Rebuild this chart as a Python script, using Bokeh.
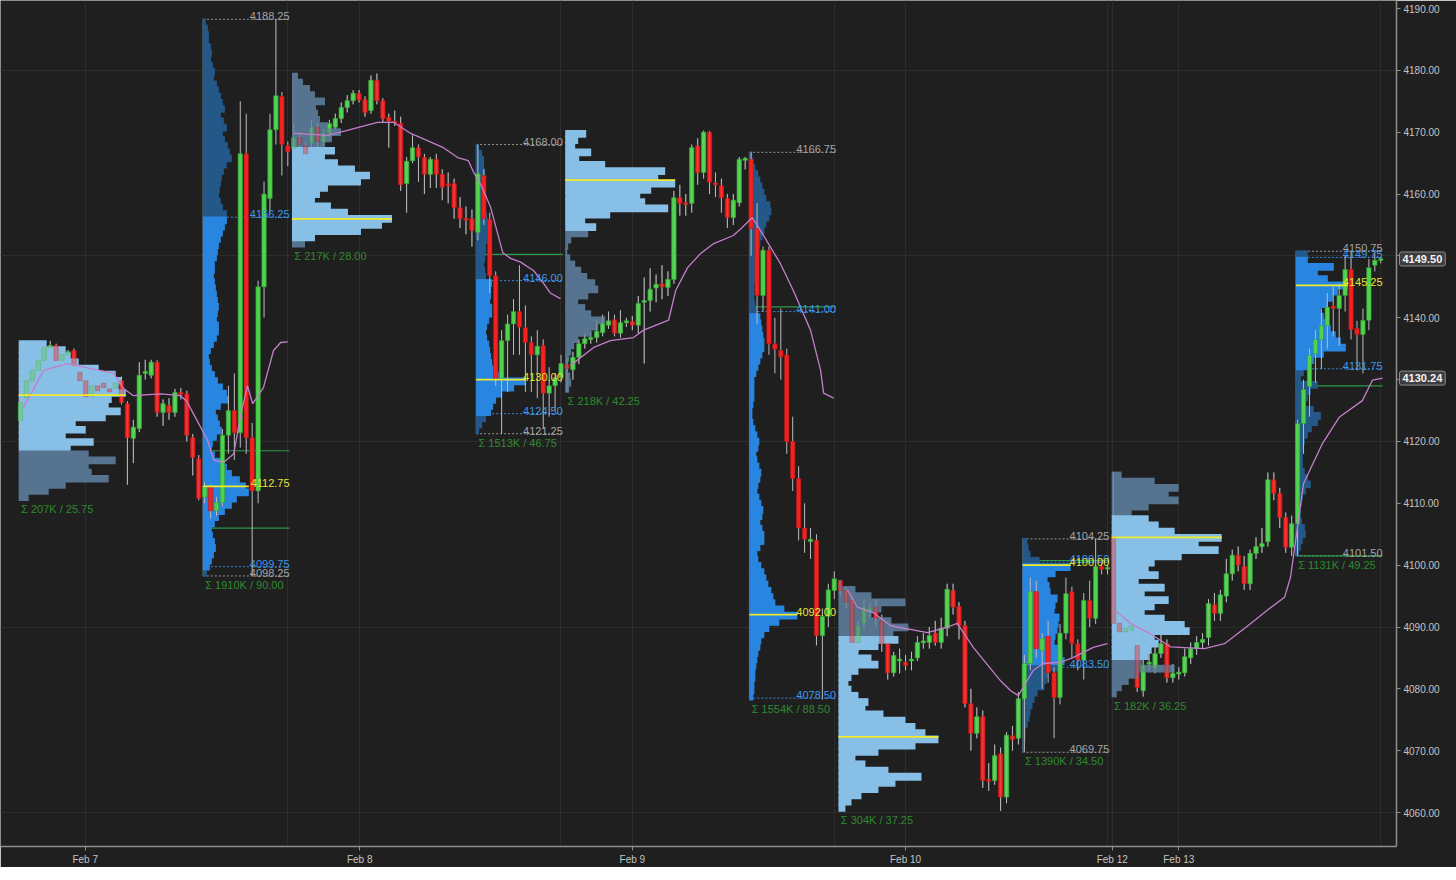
import numpy as np
from bokeh.plotting import figure
from bokeh.models import Range1d, FixedTicker, PrintfTickFormatter, Label, ColumnDataSource
from bokeh.core.properties import value
from bokeh.embed import file_html
from bokeh.resources import INLINE

# ---------------- candles (open, high, low, close), 30-min bars, per session ----------------
ses_A = [(4123.4,4127.0,4122.0,4126.3),(4127.0,4130.5,4126.0,4129.8),(4129.8,4132.0,4129.0,4131.5),
 (4131.5,4133.5,4131.0,4133.1),(4133.1,4135.5,4132.5,4135.2),(4135.2,4136.25,4134.8,4135.5),
 (4135.5,4135.8,4132.5,4133.1),(4133.1,4134.5,4132.8,4134.0),(4134.0,4134.8,4133.5,4134.5),
 (4134.7,4135.0,4131.8,4132.3),(4131.2,4131.8,4129.5,4129.8),(4129.8,4130.5,4126.5,4127.2),
 (4127.2,4129.5,4126.8,4129.0),(4129.0,4130.0,4127.8,4128.2),(4129.4,4130.5,4128.2,4128.7),
 (4128.5,4129.5,4127.5,4128.0),(4128.6,4130.2,4128.2,4129.5),(4129.8,4130.5,4126.0,4126.3),
 (4126.1,4126.5,4113.0,4120.6),(4120.5,4123.5,4116.5,4122.3),(4122.1,4132.8,4121.5,4130.7),
 (4131.0,4133.2,4130.0,4131.3),(4130.7,4133.2,4130.2,4132.8),(4132.8,4133.1,4124.0,4124.7),
 (4124.7,4126.8,4122.5,4126.1),(4125.8,4127.0,4123.5,4124.7),(4124.7,4128.5,4124.0,4127.9),
 (4127.9,4128.6,4126.8,4127.7),(4127.7,4128.2,4120.0,4121.0),(4120.6,4121.2,4114.5,4117.4),
 (4117.2,4117.8,4110.5,4110.8)]
ses_B = [(4111.0,4113.5,4110.0,4112.6),(4112.6,4113.0,4107.5,4108.8),(4108.8,4111.0,4108.0,4110.1),
 (4110.1,4122.0,4109.5,4121.0),(4121.0,4129.0,4118.0,4125.0),(4125.0,4131.0,4117.0,4121.4),
 (4121.4,4175.0,4119.0,4166.5),(4166.5,4173.0,4118.0,4120.6),(4120.6,4123.0,4098.25,4112.0),
 (4112.0,4146.0,4110.0,4145.0),(4145.0,4162.0,4140.0,4160.0),(4159.3,4173.0,4157.0,4170.4),
 (4170.4,4188.25,4168.0,4175.9),(4175.8,4176.5,4163.0,4168.0),(4167.8,4168.5,4164.5,4166.8)]
ses_C = [(4167.4,4171.5,4165.0,4169.1),(4169.1,4170.0,4167.5,4168.0),(4167.8,4168.5,4164.5,4166.5),
 (4168.2,4172.0,4167.0,4170.8),(4170.8,4171.5,4167.5,4168.4),(4168.4,4170.5,4167.8,4169.8),
 (4169.8,4172.0,4169.2,4171.4),(4170.8,4173.0,4170.5,4172.2),(4172.2,4174.8,4171.5,4174.0),
 (4174.0,4176.0,4173.2,4175.1),(4175.1,4176.8,4174.5,4176.3),(4176.3,4176.8,4174.8,4175.2),
 (4175.3,4175.8,4172.5,4173.2),(4173.5,4179.2,4173.0,4178.4),(4178.4,4179.5,4174.5,4175.1),
 (4175.1,4175.5,4171.5,4172.2),(4172.4,4173.0,4167.5,4171.8),(4171.8,4173.5,4171.0,4171.5),
 (4171.4,4172.5,4160.5,4161.5),(4161.7,4166.0,4157.0,4165.3),(4165.4,4169.5,4165.0,4167.5),
 (4167.5,4168.0,4162.0,4166.0),(4165.9,4166.5,4160.0,4163.2),(4163.2,4166.0,4161.0,4165.6),
 (4165.6,4166.5,4161.0,4163.2),(4163.2,4164.0,4159.0,4161.1),(4161.6,4163.5,4158.5,4161.4),
 (4161.7,4162.5,4156.0,4157.8),(4157.8,4159.5,4154.5,4156.0),(4156.0,4158.0,4153.5,4155.8),
 (4156.0,4157.5,4151.5,4154.1)]
ses_D = [(4153.8,4168.0,4152.5,4163.3),(4163.0,4164.0,4155.0,4156.0),(4155.9,4157.0,4144.0,4146.8),
 (4146.8,4147.5,4129.0,4130.2),(4130.2,4138.0,4121.25,4136.3),(4136.3,4140.5,4128.0,4139.0),
 (4139.0,4143.0,4134.0,4141.0),(4141.0,4148.5,4134.0,4138.5),(4138.4,4142.0,4128.0,4136.0),
 (4136.0,4137.0,4128.0,4134.0),(4134.0,4138.0,4127.0,4135.4),(4135.5,4136.5,4122.0,4127.8),
 (4127.8,4132.0,4124.0,4129.0),(4129.0,4131.0,4125.0,4130.3),(4130.3,4134.0,4129.5,4132.6)]
ses_E = [(4132.4,4133.5,4128.0,4131.8),(4131.6,4134.5,4130.0,4133.6),(4133.6,4136.5,4132.5,4135.8),
 (4135.8,4137.5,4135.0,4136.6),(4136.5,4137.8,4135.8,4136.8),(4136.8,4139.8,4136.0,4137.8),
 (4137.6,4140.5,4137.0,4139.2),(4138.8,4141.0,4138.2,4139.5),(4139.7,4140.5,4137.0,4137.5),
 (4137.5,4141.2,4136.8,4139.2),(4139.2,4140.0,4138.5,4139.5),(4139.4,4140.3,4138.0,4138.8),
 (4138.8,4143.5,4137.5,4142.3),(4142.5,4146.5,4132.6,4142.8),(4142.8,4148.0,4141.0,4144.6),
 (4144.8,4147.0,4142.5,4145.4),(4145.5,4148.5,4143.0,4145.0),(4144.9,4147.5,4143.5,4146.2),
 (4146.2,4160.5,4145.5,4159.4),(4159.4,4161.5,4156.5,4158.5),(4158.6,4160.0,4156.5,4158.3),
 (4158.5,4168.0,4157.0,4167.5),(4167.8,4169.0,4161.5,4163.5),(4163.5,4170.25,4162.5,4170.0),
 (4170.0,4170.2,4160.0,4161.9),(4161.8,4163.5,4159.5,4161.5),(4161.4,4162.5,4157.0,4159.4),
 (4159.3,4160.0,4154.5,4156.2),(4156.2,4160.0,4155.0,4159.0),(4158.6,4166.0,4158.0,4165.6),
 (4165.6,4166.0,4164.0,4165.6)]
ses_F = [(4165.6,4166.75,4150.0,4154.4),(4154.4,4158.5,4139.0,4143.6),(4143.6,4151.5,4141.0,4150.9),
 (4150.9,4151.5,4134.0,4135.8),(4135.8,4140.0,4131.0,4134.9),(4134.7,4141.5,4130.0,4133.7),
 (4134.0,4135.0,4118.0,4120.0),(4120.0,4124.0,4112.0,4114.0),(4114.0,4116.0,4104.0,4106.0),
 (4106.0,4110.0,4102.0,4104.2),(4103.8,4106.0,4101.0,4104.2),(4104.0,4105.0,4087.0,4088.6),
 (4088.6,4093.0,4078.25,4091.7),(4091.7,4097.0,4090.0,4096.0),(4095.9,4099.0,4094.5,4097.8)]
ses_G = [(4097.5,4097.5,4095.0,4095.9),(4095.9,4096.5,4093.0,4094.0),(4094.3,4095.0,4086.5,4087.5),
 (4087.5,4091.0,4086.0,4090.2),(4090.6,4094.5,4089.5,4093.2),(4092.5,4094.0,4091.5,4093.0),
 (4093.2,4094.5,4090.0,4091.4),(4091.0,4092.0,4086.0,4087.3),(4087.3,4088.0,4081.5,4082.6),
 (4082.6,4086.0,4082.0,4085.4),(4084.5,4086.5,4082.5,4084.8),(4084.3,4085.5,4083.0,4083.8),
 (4084.5,4086.0,4083.0,4084.8),(4085.0,4088.5,4084.5,4087.5),(4087.5,4089.0,4086.5,4087.7),
 (4087.5,4090.0,4086.5,4088.6),(4089.0,4091.0,4087.0,4087.5),(4087.5,4091.5,4086.5,4089.8),
 (4089.8,4097.0,4088.5,4096.1),(4095.9,4097.0,4092.0,4093.2),(4093.3,4094.0,4088.0,4090.2),
 (4090.2,4091.0,4077.0,4077.6),(4077.6,4080.0,4070.0,4072.8),(4072.8,4077.0,4072.0,4075.5),
 (4075.5,4076.5,4064.0,4065.2),(4065.3,4068.0,4063.5,4065.1),(4065.2,4071.0,4064.5,4069.2),
 (4069.5,4070.5,4060.25,4062.5),(4062.5,4073.0,4061.5,4072.5),(4072.4,4074.0,4070.0,4071.8),
 (4072.0,4079.5,4071.0,4078.4)]
ses_H = [(4078.4,4085.5,4069.75,4084.1),(4084.1,4098.0,4083.0,4095.7),(4095.7,4097.5,4085.0,4086.5),
 (4086.2,4089.0,4080.0,4088.1),(4088.5,4091.0,4081.0,4082.6),(4082.6,4083.5,4072.0,4078.6),
 (4078.6,4090.5,4077.5,4089.0),(4089.0,4098.0,4088.0,4095.4),(4095.7,4096.5,4085.0,4087.3),
 (4087.3,4088.0,4083.0,4084.6),(4084.6,4095.5,4081.5,4094.3),(4094.3,4097.5,4090.0,4091.4),
 (4091.4,4104.25,4090.5,4099.8),(4099.8,4100.3,4098.5,4099.3),(4099.5,4100.0,4098.5,4099.5)]
ses_I = [(4104.6,4115.0,4089.0,4090.6),(4090.6,4093.0,4088.0,4089.2),(4089.2,4091.0,4087.5,4089.8),
 (4089.5,4092.0,4088.5,4090.2),(4087.0,4090.5,4079.5,4080.2),(4079.7,4085.0,4078.75,4083.8),
 (4084.0,4086.0,4083.0,4084.3),(4083.3,4087.0,4082.5,4085.7),(4085.7,4091.5,4085.0,4087.3),
 (4087.3,4088.0,4081.0,4081.8),(4081.8,4084.0,4081.0,4082.5),(4082.5,4083.5,4081.5,4082.6),
 (4082.6,4086.5,4082.0,4085.2),(4085.0,4087.5,4084.0,4086.5),(4086.5,4088.5,4085.5,4087.5),
 (4087.5,4089.0,4086.5,4088.0),(4088.3,4094.5,4087.0,4093.8),(4093.6,4095.5,4091.0,4092.2),
 (4092.2,4096.0,4091.0,4095.2),(4095.0,4101.0,4094.0,4098.6),(4098.6,4102.5,4097.5,4101.6),
 (4101.6,4103.0,4099.0,4100.0),(4099.8,4101.5,4096.0,4097.0),(4097.0,4102.5,4096.0,4101.9),
 (4101.9,4104.5,4101.0,4103.0),(4103.0,4106.0,4102.0,4103.5),(4103.8,4115.0,4103.0,4113.8),
 (4113.8,4115.0,4110.5,4111.6),(4111.6,4112.5,4106.0,4107.7),(4107.7,4108.5,4102.0,4102.9),
 (4102.9,4108.0,4101.5,4106.7)]
ses_J = [(4106.7,4123.5,4101.5,4122.9),(4122.9,4130.0,4118.0,4128.4),(4128.9,4135.0,4124.0,4133.9),
 (4134.2,4138.0,4129.5,4136.5),(4136.5,4141.5,4131.75,4138.7),(4138.7,4144.0,4135.0,4141.7),
 (4141.9,4145.0,4137.0,4141.5),(4141.5,4145.5,4135.5,4143.6),(4143.6,4150.0,4141.0,4147.8),
 (4147.8,4150.75,4136.5,4138.1),(4138.3,4139.5,4131.5,4137.3),(4137.3,4141.5,4131.0,4139.6),
 (4139.6,4149.5,4138.0,4148.1),(4148.5,4150.75,4147.5,4149.3),(4149.3,4149.8,4148.8,4149.5)]

# ---------------- volume profiles (volume per price row, top row first) ----------------
vol_A = [28,47,52,60,80,97,103,100,107,93,90,102,87,57,67,47,75,52,70,97,70,73,90,47,30,10]
vol_B = [3,5,6,6,8,9,8,10,12,11,14,16,18,20,22,18,21,24,20,22,25,27,29,24,21,19,18,17,16,18,20,24,
         24,22,20,18,16,15,14,12,12,11,12,13,14,15,16,15,14,16,16,14,11,8,6,7,9,12,15,20,24,26,18,13,
         15,17,19,14,10,9,12,18,24,29,37,43,46,34,29,22,16,12,9,10,12,13,11,9,7,4]
vol_C = [6,11,18,23,33,24,26,28,36,49,40,33,43,33,46,63,78,69,36,28,23,39,56,100,90,69,23,13]
vol_D = [3,6,8,8,9,8,7,6,6,7,9,11,12,13,13,12,10,10,9,8,9,10,
         16,15,15,14,16,16,13,11,10,11,13,14,15,16,20,23,50,38,26,20,17,15,10,6,3]
vol_E = [21,13,10,26,14,40,100,93,110,86,75,80,103,45,20,31,23,
         6,3,2,5,10,16,22,30,33,23,13,20,26,40,33,26,13,9,6,4,3,3,5,6,4]
vol_F = [3,4,6,9,11,13,15,17,21,22,20,17,15,13,11,10,9,8,7,6,6,5,5,5,6,8,
         11,12,13,14,15,15,13,11,9,7,5,5,5,5,4,3,3,4,6,8,10,9,7,8,10,12,11,9,8,10,12,14,13,11,13,15,
         15,11,8,9,12,15,17,19,22,24,26,35,48,30,20,15,12,11,9,8,7,6,6,5,5,4]
vol_G = [3,17,33,67,43,33,53,70,55,
         60,40,20,33,40,20,13,10,13,20,30,27,45,67,77,87,100,77,40,17,27,50,83,57,40,23,13,7]
vol_H = [5,6,8,17,48,33,25,27,28,35,33,32,37,36,35,33,32,38,40,42,38,
         25,24,22,15,12,10,8,7,5,3,3,2,2]
vol_I = [10,43,67,57,67,37,20,37,47,63,110,87,107,70,43,37,47,27,53,33,57,43,33,53,73,78,43,47,40,37,
         30,63,27,17,10,5]
vol_J = [12,12,38,22,32,52,42,37,32,25,28,30,35,40,45,50,28,18,12,
         8,5,22,15,12,10,18,25,22,16,12,9,8,7,7,7,9,12,15,10,7,6,5,5,6,9,10,7,5,3]

# profile: (volumes, high, low, value-area high, value-area low, POC, session type, total label)
profiles = [
    (vol_A, 4136.25, 4110.50, 4136.25, 4118.00, 4127.50, "eth", "Σ 207K / 25.75"),
    (vol_B, 4188.25, 4098.25, 4156.25, 4099.75, 4112.75, "rth", "Σ 1910K / 90.00"),
    (vol_C, 4179.50, 4151.50, 4167.50, 4153.00, 4156.00, "eth", "Σ 217K / 28.00"),
    (vol_D, 4168.00, 4121.25, 4146.00, 4124.50, 4130.00, "rth", "Σ 1513K / 46.75"),
    (vol_E, 4170.25, 4128.00, 4170.25, 4153.75, 4162.25, "eth", "Σ 218K / 42.25"),
    (vol_F, 4166.75, 4078.25, 4141.00, 4078.50, 4092.00, "rth", "Σ 1554K / 88.50"),
    (vol_G, 4097.50, 4060.25, 4088.50, 4060.25, 4072.25, "eth", "Σ 304K / 37.25"),
    (vol_H, 4104.25, 4069.75, 4100.50, 4083.50, 4100.00, "rth", "Σ 1390K / 34.50"),
    (vol_I, 4115.00, 4078.75, 4108.00, 4085.00, 4104.50, "eth", "Σ 182K / 36.25"),
    (vol_J, 4150.75, 4101.50, 4149.75, 4131.75, 4145.25, "rth", "Σ 1131K / 49.25"),
]
sessions = [ses_A, ses_B, ses_C, ses_D, ses_E, ses_F, ses_G, ses_H, ses_I, ses_J]

# RTH level labels (price, kind) and initial-balance lines
rth_levels = {
    1: [(4188.25, "grey"), (4156.25, "blue"), (4112.75, "yellow"), (4099.75, "blue"), (4098.25, "grey")],
    3: [(4168.00, "grey"), (4146.00, "blue"), (4130.00, "yellow"), (4124.50, "blue"), (4121.25, "grey")],
    5: [(4166.75, "grey"), (4141.00, "blue"), (4092.00, "yellow"), (4078.50, "blue")],
    7: [(4104.25, "grey"), (4100.50, "blue"), (4100.00, "yellow"), (4083.50, "blue"), (4069.75, "grey")],
    9: [(4150.75, "grey"), (4149.75, "blue"), (4145.25, "yellow"), (4131.75, "blue"), (4101.50, "grey")],
}
ib_levels = {1: [4118.50, 4106.00], 3: [4150.25], 5: [4141.75], 7: [4100.75], 9: [4129.00, 4101.50]}

# VWAP per trading day: (bar, price)
vwap_days = [
    [(0.5,4125.5),(3.9,4131.5),(7.9,4132.6),(15.7,4131.0),(17.3,4128.6),(19.0,4127.4),(23.6,4127.7),
     (26.9,4127.4),(28.0,4126.5),(29.1,4124.5),(31.5,4120.2),(32.5,4117.0),(34.2,4116.6),(35.9,4118.0),
     (37.0,4123.9),(38.2,4129.0),(39.1,4126.1),(40.9,4128.7),(42.6,4134.7),(43.8,4136.0),(45.0,4136.1)],
    [(46.0,4169.8),(51.7,4169.5),(55.0,4170.3),(60.1,4171.6),(62.8,4171.6),(65.7,4169.8),(71.2,4167.5),
     (73.6,4165.9),(75.4,4165.4),(76.3,4163.5),(77.4,4161.7),(79.1,4158.0),(81.2,4150.5),(82.5,4149.6),
     (84.2,4149.0),(86.4,4147.6),(88.1,4145.5),(89.2,4144.0),(90.9,4143.1)],
    [(92.6,4132.3),(96.5,4135.2),(99.3,4136.3),(103.2,4136.8),(104.9,4138.0),(109.1,4139.6),
     (110.3,4144.4),(112.3,4148.1),(114.5,4150.4),(116.7,4152.0),(120.0,4153.3),(121.5,4154.6),
     (123.2,4156.2),(124.9,4153.6),(127.9,4148.8),(130.1,4144.4),(133.0,4138.0),(134.7,4131.5),
     (135.2,4127.8),(136.9,4127.0)],
    [(139.2,4096.0),(140.9,4093.2),(143.6,4092.3),(146.5,4090.2),(152.7,4089.1),(156.1,4090.0),
     (157.7,4090.6),(160.4,4086.7),(165.0,4081.3),(166.7,4079.7),(168.0,4078.9),(169.2,4080.9),
     (170.5,4083.0),(172.2,4084.1),(175.1,4084.3),(177.1,4085.0),(180.6,4086.7),(183.0,4087.3)],
    [(184.5,4092.5),(187.0,4090.5),(190.2,4088.9),(193.6,4086.8),(199.3,4086.5),(202.7,4087.3),
     (207.0,4090.5),(210.0,4092.8),(212.8,4094.8),(213.8,4098.0),(216.0,4113.2),(219.2,4119.7),
     (222.0,4123.9),(225.9,4126.6),(227.6,4129.9),(229.3,4130.24)],
]

date_ticks = [10.9, 57.1, 103.0, 149.0, 183.8, 195.0]
date_labels = ["Feb 7", "Feb 8", "Feb 9", "Feb 10", "Feb 12", "Feb 13"]
grid_extra = [45.0, 90.9, 137.0, 183.0, 229.0]
price_ticks = [4060, 4070, 4080, 4090, 4100, 4110, 4120, 4130, 4140, 4150, 4160, 4170, 4180, 4190]
price_grid = [4060, 4090, 4120, 4150, 4180]
last_price = 4149.50
vwap_last = 4130.24

# ---------------- styling ----------------
BG = "#1f1f1f"
FONT = "Liberation Sans"
PX_PER_BAR = 5.94
PX_PER_PT = 6.185
FRAME_W, FRAME_H = 1396, 846
UP, DN = "#4fd34f", "#f22222"
UP_L, DN_L = "#2f9f2f", "#b01515"
WICK = "#bcbcbc"
TXT = {"grey": "#a4a4a4", "blue": "#3d96ea", "yellow": "#e6e336"}
SIGMA = "#2f8a2f"

x0 = -20.0 / PX_PER_BAR            # first bar 20 px right of the frame edge
y1 = 4190 + 8.0 / PX_PER_PT        # 4190 sits 8 px below the top
p = figure(frame_width=FRAME_W, frame_height=FRAME_H, output_backend="svg", toolbar_location=None,
           x_range=Range1d(x0, x0 + FRAME_W / PX_PER_BAR),
           y_range=Range1d(y1 - FRAME_H / PX_PER_PT, y1),
           y_axis_location="right", background_fill_color=BG, border_fill_color=BG,
           outline_line_color=None, min_border_left=0, min_border_top=0, min_border_bottom=18,
           min_border_right=10)

p.xgrid.ticker = FixedTicker(ticks=sorted(date_ticks + grid_extra))
p.ygrid.ticker = FixedTicker(ticks=price_grid)
for g in (p.xgrid, p.ygrid):
    g.grid_line_color = "#2d2d2d"
    g.grid_line_width = 1

xa = p.xaxis[0]
xa.ticker = FixedTicker(ticks=date_ticks)
xa.major_label_overrides = {t: l for t, l in zip(date_ticks, date_labels)}
ya = p.yaxis[0]
ya.ticker = FixedTicker(ticks=price_ticks)
ya.formatter = PrintfTickFormatter(format="%.2f")
for ax in (xa, ya):
    ax.axis_line_color = "#8e8e8e"
    ax.axis_line_width = 1.5
    ax.major_tick_line_color = "#8e8e8e"
    ax.major_tick_out = 4
    ax.major_tick_in = 0
    ax.minor_tick_line_color = None
    ax.major_label_text_color = "#c4c4c4"
    ax.major_label_text_font = FONT
    ax.major_label_text_font_size = "10px"
    ax.major_label_standoff = 3

# bar index of each session
starts = []
n = 0
for s in sessions:
    starts.append(n)
    n += len(s)

# ---------------- level lines & box borders (RTH) ----------------
for k, levels in rth_levels.items():
    first = starts[k]
    last = starts[k] + len(sessions[k]) - 1
    L, R = first - 0.3, last + 0.3
    hi, lo = profiles[k][1], profiles[k][2]
    p.segment(x0=[L], y0=[lo], x1=[L], y1=[hi], line_color="#707070", line_width=1, line_alpha=0.8)
    for price, kind in levels:
        if kind == "yellow":
            continue
        p.segment(x0=[L], y0=[price], x1=[R], y1=[price], line_color=TXT[kind], line_width=1,
                  line_dash="2 2", line_alpha=0.9)
    for price in ib_levels[k]:
        p.segment(x0=[L], y0=[price], x1=[R], y1=[price], line_color="#2a9a4a", line_width=1.2)


def draw_profile(k):
    vols, hi, lo, vah, val, poc, kind, lab = profiles[k]
    v = np.array(vols, float)
    h = (hi - lo) / len(v)
    cen = hi - h * (np.arange(len(v)) + 0.5)
    left = starts[k] - 0.3
    inva = (cen <= vah + 1e-6) & (cen >= val - 1e-6)
    if kind == "eth":
        cols = np.where(inva, "#88bfe6", "#56748f")
    else:
        cols = np.where(inva, "#2886e0", "#235889")
    # widest rows drawn last so the slight overlap between rows never leaves seams
    order = np.argsort(v)
    p.hbar(y=cen[order], left=left, right=(left + v / PX_PER_BAR)[order], height=h * 1.25,
           fill_color=list(cols[order]), line_color=None)


# ---------------- candles ----------------
O = np.array([c[0] for s in sessions for c in s])
H = np.array([c[1] for s in sessions for c in s])
Lw = np.array([c[2] for s in sessions for c in s])
C = np.array([c[3] for s in sessions for c in s])
X = np.arange(len(O))
up = C >= O
top = np.maximum(O, C)
bot = np.minimum(O, C)
thin = (top - bot) < 0.3
mid = (top + bot) / 2
top = np.where(thin, mid + 0.15, top)
bot = np.where(thin, mid - 0.15, bot)
eth_mask = np.zeros(len(O), bool)
for k, prof in enumerate(profiles):
    if prof[6] == "eth":
        eth_mask[starts[k]:starts[k] + len(sessions[k])] = True
cdata = dict(x=X, h=H, l=Lw, top=top, bot=bot,
             fill=np.where(up, UP, DN).tolist(), line=np.where(up, UP_L, DN_L).tolist())
src = ColumnDataSource(cdata)
src_eth = ColumnDataSource({k: np.asarray(v)[eth_mask].tolist() for k, v in cdata.items()})


def draw_candles(source, alpha):
    p.segment(x0="x", y0="h", x1="x", y1="l", source=source, line_color=WICK, line_width=1,
              line_alpha=alpha)
    p.vbar(x="x", top="top", bottom="bot", width=0.74, source=source, fill_color="fill",
           line_color="line", line_width=0.6, fill_alpha=alpha, line_alpha=alpha)


# RTH profiles under the candles
for k in range(len(profiles)):
    if profiles[k][6] == "rth":
        draw_profile(k)
draw_candles(src, 1.0)
# ETH profiles over the candles, candles shown faintly through them
for k in range(len(profiles)):
    if profiles[k][6] == "eth":
        draw_profile(k)
draw_candles(src_eth, 0.4)

# ---------------- VWAP ----------------
for day in vwap_days:
    p.line([d[0] for d in day], [d[1] for d in day], line_color="#c47ecb", line_width=1.3)

# ---------------- POC lines & labels ----------------
for k, (vols, hi, lo, vah, val, poc, kind, lab) in enumerate(profiles):
    left = starts[k] - 0.3
    p.segment(x0=[left], y0=[poc], x1=[left + max(vols) / PX_PER_BAR], y1=[poc],
              line_color="#f0ec2a", line_width=1.8)
    p.text(x=[left + 0.4], y=[lo], text=[lab], text_color=SIGMA, text_font=value(FONT),
           text_font_size="11px", text_baseline="top", text_align="left", y_offset=3)

for k, levels in rth_levels.items():
    R = starts[k] + len(sessions[k]) - 1 + 0.3
    for price, kind in levels:
        p.text(x=[R], y=[price], text=["%.2f" % price], text_color=TXT[kind], text_font=value(FONT),
               text_font_size="11px", text_baseline="bottom", text_align="right", y_offset=1)

# ---------------- price badges on the axis (side panel, so not clipped to the frame) ----------------
for price in (last_price, vwap_last):
    p.add_layout(Label(x=FRAME_W + 3, y=price, x_units="canvas", y_units="data", text="%.2f" % price,
                       text_color="#f4f4f4", text_font=FONT, text_font_size="11px",
                       text_font_style="bold", text_baseline="middle", text_align="left",
                       background_fill_color="#3e3e3e", border_line_color="#8c8c8c",
                       border_line_width=1, padding=3, border_radius=2, level="overlay"), "right")

open("out.html", "w").write(file_html(p, INLINE))
